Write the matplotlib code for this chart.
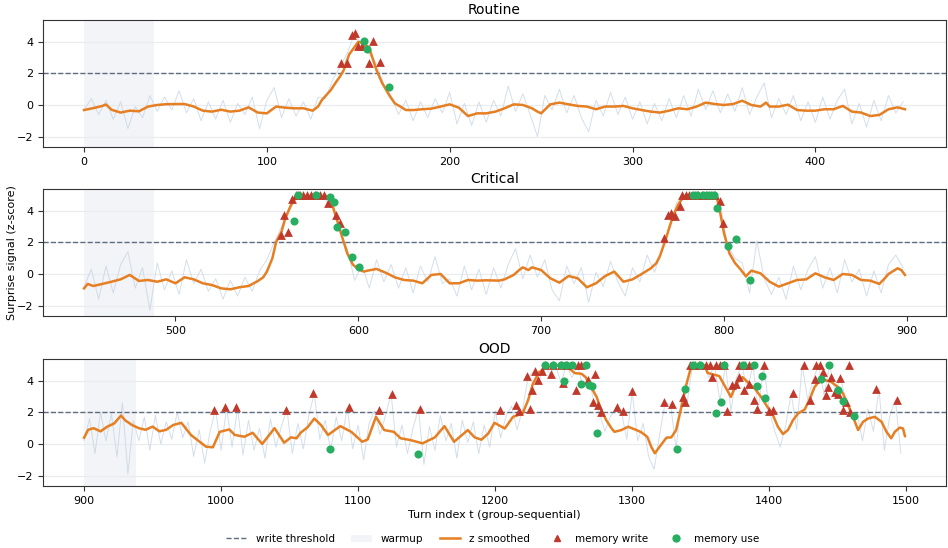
import numpy as np
import matplotlib
matplotlib.use("Agg")
import matplotlib.pyplot as plt
from matplotlib.lines import Line2D
from matplotlib.patches import Patch

# ---------------- data ----------------
groups = ["Routine", "Critical", "OOD"]
group_start = [0, 450, 900]
group_end = [449, 899, 1499]
warmup_len = 38
threshold = 2.0
raw_step = 4

routine_raw = [-0.3, 0.4, -0.6, 0.3, -0.9, 0.2, -1.5, -0.1, -0.8, 0.6, -0.4, 0.5, -0.3, 0.9, -0.5, 0.4,
               -1.0, 0.2, -0.9, 0.3, -1.1, 0.1, -0.6, 0.5, -1.5, 0.3, 1.1, -0.8, 0.4, -0.7, 0.2, -0.9,
               0.5, 0.4, 1.6, 2.4, 3.3, 4.5, 3.8, 3.2, 2.6, 1.3, 0.6, -0.6, 0.3, -1.0, 0.2, -0.8,
               0.4, -0.5, 0.8, -1.2, 0.1, -1.3, 0.2, -1.1, 0.3, -0.7, 1.2, -0.4, 0.7, -0.6, -2.0, 0.6,
               -0.3, 1.0, -0.5, 0.6, -0.8, -1.7, 0.3, -0.7, 0.8, -0.6, 0.5, -0.9, 0.2, -1.2, 0.1, -1.0,
               0.4, -0.8, 0.6, -0.7, 1.0, -0.3, 0.9, -0.5, 0.7, -0.4, 1.1, -0.6, 0.5, 1.4, -0.8, 0.4,
               -0.6, 0.6, -1.0, 0.2, -1.1, 0.5, -0.9, 0.3, 1.0, -1.2, 0.1, -1.4, 0.3, -1.0, 0.6, -0.5, 0.2]
critical_raw = [-0.8, 0.3, -1.6, 0.5, -1.2, 0.6, 1.4, -0.9, 0.4, -2.3, 0.7, -1.0, 0.2, -1.3, 0.9, -0.6,
                0.3, -1.1, -0.3, -1.6, -0.4, -1.4, -0.2, -1.1, 0.2, 0.9, 2.0, 3.0, 4.2, 5.0, 5.0, 5.0,
                5.0, 4.7, 4.1, 2.6, 1.6, -0.4, 0.6, -0.9, 0.9, -0.5, 0.6, -0.9, 0.4, -1.2, 0.5, -0.5,
                1.1, -0.6, -0.3, -1.4, 0.5, -1.0, 0.3, -1.3, 0.4, -0.9, 0.6, 1.6, -0.3, 1.2, -0.2, 0.9,
                -1.0, -1.7, 0.5, -0.6, 0.4, -1.8, 0.1, -0.8, 0.8, -0.5, -1.4, 0.4, -0.5, 1.2, 0.1, 1.5,
                2.8, 4.5, 5.0, 5.0, 5.0, 5.0, 5.0, 4.4, 1.8, 1.0, 0.7, -1.2, 2.1, -0.3, -1.3, -0.2,
                -1.6, 0.5, -1.0, 0.3, 1.1, -0.9, 0.4, -1.2, 0.9, -0.5, 0.3, -1.4, 0.2, -1.2, 0.6, 1.2, 0.4]
ood_raw = [0.2, 1.6, -0.6, 2.0, 0.2, 1.9, -0.8, 2.6, -1.9, 1.5, 0.2, 1.7, -0.4, 1.8, 0.0, 1.4,
           0.3, 2.0, 0.4, 1.4, -0.8, 0.9, -1.2, 0.8, 2.2, -0.4, 2.3, -0.2, 2.3, -0.7, 1.5, -0.4,
           1.0, -0.9, 1.6, -0.2, 1.1, 2.2, -0.6, 1.3, -0.3, 1.8, 3.2, 0.3, 1.5, -0.4, 1.7, 0.2,
           2.3, -0.3, 1.2, -1.0, 1.3, 2.1, 0.6, 1.8, 3.2, -0.2, 1.2, -0.6, 1.0, 2.2, -1.3, 1.1,
           -0.4, 1.8, 0.2, 1.3, -0.9, 1.5, 0.1, 1.4, -0.6, 1.2, -0.2, 2.1, 0.4, 1.8, 2.4, 0.9,
           2.2, 4.2, 4.6, 4.0, 5.0, 4.4, 5.0, 3.9, 5.0, 4.2, 5.0, 3.6, 4.3, 2.7, 2.0, 0.8,
           1.7, 2.3, 2.1, 0.3, 3.3, 0.2, 1.3, -0.8, -1.6, 0.6, 2.6, 2.5, -0.3, 3.0, 2.6, 5.0,
           5.0, 5.0, 4.2, 5.0, 2.7, 5.0, 2.1, 4.2, 5.0, 3.4, 5.0, 2.2, 5.0, 2.1, 0.8, -0.2,
           1.2, 3.2, 0.9, 5.0, 2.8, 4.1, 5.0, 3.1, 5.0, 3.3, 4.2, 2.7, 1.8, 2.0, 0.2, 2.2,
           0.8, 3.5, -0.4, 1.8, 2.8, -0.6]

routine_smooth = [(0, -0.32), (5, -0.2), (10, -0.06), (12, 0.03), (15, -0.3), (20, -0.48), (25, -0.36),
                  (30, -0.4), (35, -0.1), (40, 0.0), (45, 0.05), (50, 0.06), (55, 0.06), (60, -0.1),
                  (65, -0.36), (70, -0.42), (75, -0.3), (80, -0.42), (85, -0.36), (90, -0.15), (95, -0.48),
                  (100, -0.53), (105, -0.1), (110, -0.17), (115, -0.21), (120, -0.21), (125, -0.36),
                  (128, -0.1), (130, 0.3), (135, 0.95), (138, 1.48), (140, 1.8), (142, 2.2), (145, 3.2),
                  (150, 4.0), (153, 3.9), (156, 3.6), (160, 2.2), (163, 1.4), (167, 0.6), (170, 0.1),
                  (173, -0.1), (176, -0.32), (180, -0.32), (185, -0.27), (190, -0.23), (195, -0.1),
                  (200, 0.04), (205, -0.17), (210, -0.7), (215, -0.53), (220, -0.53), (225, -0.42),
                  (230, -0.21), (235, 0.04), (240, 0.0), (245, -0.21), (248, -0.42), (250, -0.53),
                  (255, 0.04), (260, 0.15), (265, 0.04), (270, -0.06), (275, -0.1), (280, -0.27),
                  (285, -0.1), (290, -0.1), (295, -0.06), (300, -0.21), (305, -0.32), (310, -0.42),
                  (315, -0.48), (320, -0.36), (325, -0.21), (330, -0.27), (335, -0.1), (340, 0.15),
                  (345, 0.06), (350, 0.0), (355, 0.06), (360, 0.27), (365, 0.0), (370, -0.1), (373, 0.15),
                  (375, -0.1), (380, -0.1), (385, 0.02), (390, -0.32), (395, -0.36), (400, -0.36),
                  (405, -0.27), (410, -0.27), (415, -0.06), (420, -0.42), (425, -0.48), (430, -0.7),
                  (435, -0.63), (440, -0.27), (445, -0.15), (449, -0.27)]
critical_smooth = [(450, -0.91), (452, -0.63), (455, -0.76), (460, -0.63), (465, -0.49), (470, -0.34),
                   (475, -0.06), (480, -0.44), (485, -0.38), (490, -0.49), (495, -0.34), (500, -0.59),
                   (505, -0.21), (510, -0.34), (515, -0.59), (520, -0.7), (525, -0.91), (530, -0.97),
                   (535, -0.84), (540, -0.76), (545, -0.45), (548, -0.21), (550, 0.15), (553, 0.99),
                   (555, 2.0), (558, 2.68), (560, 3.5), (563, 4.3), (565, 4.7), (567, 4.9), (575, 4.9),
                   (584, 4.9), (586, 4.3), (589, 3.2), (591, 2.4), (594, 1.3), (597, 0.6), (600, 0.3),
                   (603, 0.15), (605, 0.21), (610, 0.32), (615, 0.08), (620, -0.21), (625, -0.38),
                   (630, -0.42), (635, -0.59), (640, -0.06), (645, 0.0), (650, -0.59), (655, -0.59),
                   (660, -0.38), (665, -0.42), (670, -0.4), (677, -0.42), (680, -0.34), (685, -0.06),
                   (688, 0.25), (690, 0.42), (693, 0.25), (695, 0.42), (700, 0.25), (705, -0.27),
                   (710, -0.55), (715, -0.13), (720, -0.27), (725, -0.84), (730, -0.59), (735, -0.13),
                   (740, 0.15), (745, -0.49), (750, -0.34), (755, 0.0), (760, 0.36), (763, 0.68),
                   (765, 1.14), (768, 2.15), (770, 2.89), (772, 3.63), (775, 4.4), (778, 4.9), (790, 4.9),
                   (796, 4.9), (798, 3.84), (800, 2.6), (803, 1.3), (806, 0.7), (809, 0.3), (812, -0.15),
                   (815, 0.21), (820, 0.04), (825, -0.49), (830, -0.8), (835, -0.59), (840, -0.38),
                   (845, -0.34), (850, 0.04), (855, -0.21), (860, -0.38), (865, 0.0), (870, -0.06),
                   (875, -0.38), (880, -0.42), (885, -0.63), (888, -0.27), (890, 0.0), (895, 0.36),
                   (897, 0.25), (899, -0.06)]
ood_smooth = [(900, 0.4), (903, 0.9), (907, 1.0), (912, 0.8), (917, 1.1), (922, 1.3), (927, 1.8), (930, 1.5),
              (935, 1.2), (940, 1.0), (945, 0.9), (950, 1.1), (955, 0.8), (960, 0.9), (965, 1.2),
              (971, 1.34), (978, 0.57), (989, -0.17), (994, -0.21), (999, 0.77), (1006, 0.92), (1010, 0.57),
              (1017, 0.46), (1023, 0.71), (1030, 0.0), (1039, 1.0), (1046, 0.08), (1051, 0.42), (1055, 0.36),
              (1058, 0.71), (1063, 1.05), (1068, 1.61), (1073, 1.19), (1078, 0.57), (1087, 1.13), (1095, 0.77),
              (1103, 0.14), (1107, 0.29), (1113, 1.72), (1119, 0.88), (1126, 0.77), (1131, 0.36), (1138, 0.25),
              (1147, 0.04), (1156, 0.42), (1163, 1.13), (1170, 0.14), (1180, 0.88), (1185, 0.42), (1190, 0.27),
              (1195, 0.67), (1199.5, 1.34), (1207, 0.98), (1213, 1.72), (1216.5, 1.82), (1220, 1.93),
              (1224, 2.77), (1227.5, 3.81), (1232, 4.55), (1238, 4.86), (1246, 4.97), (1253, 4.86),
              (1258, 4.49), (1263, 4.44), (1266, 4.23), (1270, 3.6), (1274, 2.98), (1277, 2.24), (1281, 1.51),
              (1285, 0.98), (1287, 0.77), (1292, 0.88), (1297, 1.09), (1302, 0.92), (1306.5, 0.75),
              (1311, 0.45), (1314, -0.2), (1316.5, -0.59), (1320, -0.17), (1325, 0.4), (1328.5, 0.42),
              (1332, 0.88), (1335.5, 2.2), (1339, 3.6), (1343, 4.9), (1353, 4.97), (1355, 4.5), (1359, 4.4),
              (1363.5, 4.3), (1368, 3.6), (1372, 2.98), (1376, 3.81), (1380.5, 4.23), (1385.5, 3.81),
              (1389.5, 3.5), (1394, 2.98), (1399, 2.3), (1402.7, 1.82), (1406.3, 1.09), (1410, 0.63),
              (1413.6, 0.88), (1417.3, 1.51), (1421, 1.93), (1425.8, 2.18), (1429.4, 2.81), (1433, 3.6),
              (1438, 4.13), (1441.6, 4.02), (1445.3, 3.92), (1450.2, 3.6), (1453.8, 3.19), (1457.5, 2.45),
              (1461.1, 1.72), (1464.8, 0.88), (1468.4, 1.4), (1472, 1.61), (1477, 1.72), (1482, 1.4),
              (1485.5, 0.77), (1489, 0.36), (1491.6, 0.77), (1495.2, 1.04), (1497.6, 0.98), (1499, 0.5)]

routine_writes = [(140.3, 2.68), (144, 2.68), (146.3, 4.43), (148, 4.53), (150, 3.72), (152, 3.72),
                  (155.9, 2.64), (158, 4.07), (162, 2.74)]
routine_uses = [(153.1, 4.05), (155, 3.54), (166.8, 1.16)]
critical_writes = [(557.7, 2.47), (559.5, 3.73), (561.7, 2.68), (563.5, 4.72), (566, 5), (568, 5), (570, 5),
                   (572, 5), (574, 5), (576.5, 5), (579, 5), (581, 5), (583.5, 4.51), (587.6, 3.73),
                   (589.8, 3.2), (767.3, 2.26), (769.5, 3.73), (771.2, 3.84), (773, 3.67), (775.8, 4.3),
                   (777, 5), (779, 5), (781, 5), (784, 5), (786, 5), (788, 5), (790, 5), (792, 5), (795, 5),
                   (797.7, 4.64), (799.5, 3.25)]
critical_uses = [(564.6, 3.37), (566.8, 5), (576.8, 5), (584.6, 4.9), (586.8, 4.57), (588.6, 2.95),
                 (592.6, 2.64), (596.8, 1.06), (600.4, 0.42), (783, 5), (785, 5), (788.5, 5), (791, 5),
                 (793, 5), (794.8, 5), (796.3, 4.2), (802.3, 1.79), (806.5, 2.2), (814.5, -0.38)]
ood_writes = [(994.7, 2.18), (1002.5, 2.31), (1010.9, 2.31), (1047, 2.18), (1066.9, 3.23), (1093, 2.31),
              (1115.1, 2.14), (1124.8, 3.19), (1144.8, 2.24), (1203.2, 2.14), (1215.4, 2.45), (1217.3, 2.1),
              (1225.1, 2.24), (1223.2, 4.28), (1227, 3.44), (1228.7, 4.61), (1231.2, 4.02), (1234.1, 4.61),
              (1236, 4.97), (1240.9, 4.4), (1242.1, 4.97), (1248.2, 4.97), (1249.4, 3.88), (1252.5, 4.97),
              (1259.1, 3.44), (1260.3, 4.97), (1262.7, 4.97), (1267.5, 4.02), (1273.1, 4.4), (1271.2, 2.66),
              (1274.9, 2.45), (1277.3, 2.03), (1289, 2.31), (1293.2, 2.1), (1299.7, 3.36), (1323.1, 2.66),
              (1329.2, 2.52), (1337, 2.98), (1338.7, 2.66), (1342, 4.97), (1346, 4.97), (1349, 4.97),
              (1354, 4.97), (1357, 4.97), (1361, 4.97), (1364, 4.97), (1367, 4.97), (1378, 4.97),
              (1382, 4.97), (1385, 4.97), (1396, 4.97), (1425, 4.97), (1434, 4.97), (1437, 4.97),
              (1458, 4.97), (1358.3, 4.23), (1368.8, 2.1), (1372.9, 3.71), (1375.4, 3.81), (1377.8, 4.23),
              (1381.5, 3.4), (1385.1, 3.81), (1388.8, 2.77), (1390.7, 2.24), (1399.7, 2.1), (1402.9, 2.14),
              (1417.3, 3.23), (1429.4, 2.77), (1433, 4.13), (1439.1, 4.55), (1445.2, 4.23), (1442.8, 3.6),
              (1451.8, 4.19), (1447.7, 3.29), (1441.6, 3.08), (1450.1, 3.19), (1456.2, 2.66), (1453.8, 2.18),
              (1458.7, 2.03), (1477.9, 3.5), (1493.5, 2.77)]
ood_uses = [(1079.8, -0.34), (1144, -0.63), (1236, 5), (1242.1, 5), (1248.2, 5), (1251.8, 5), (1256, 5),
            (1266.3, 5), (1250.1, 3.98), (1262.3, 3.81), (1268.1, 3.71), (1270.6, 3.65), (1274.2, 0.71),
            (1332.8, -0.32), (1338.2, 3.5), (1344.2, 5), (1349.1, 5), (1360.9, 1.97), (1364.8, 2.66),
            (1367, 5), (1381.1, 5), (1388.9, 5), (1395, 4.28), (1390.9, 3.65), (1397, 2.93), (1437.7, 4.13),
            (1443.8, 5), (1449.9, 3.4), (1453.6, 2.73), (1461.6, 1.78)]

raws = [routine_raw, critical_raw, ood_raw]
smooths = [routine_smooth, critical_smooth, ood_smooth]
writes = [routine_writes, critical_writes, ood_writes]
uses = [routine_uses, critical_uses, ood_uses]

# ---------------- style ----------------
C_ORANGE = "#e67e22"
C_RED = "#c0392b"
C_GREEN = "#27ae60"
C_THR = "#5d6d7e"
C_RAW = "#c5d3e3"
C_WARM = "#d3dae4"

fig = plt.figure(figsize=(9.48, 5.48), dpi=100)
W, H = 948.0, 548.0
panel_px = [(20, 147), (189, 316), (359, 486)]
left_px, right_px = 43, 946

axes = []
for i, (top, bot) in enumerate(panel_px):
    ax = fig.add_axes([left_px / W, 1 - bot / H, (right_px - left_px) / W, (bot - top) / H])
    axes.append(ax)
    s, e = group_start[i], group_end[i]
    ax.axvspan(s, s + warmup_len, color=C_WARM, alpha=0.28, lw=0, zorder=0)
    raw = np.array(raws[i])
    rt = s + raw_step * np.arange(len(raw))
    ax.plot(rt, raw, color=C_RAW, lw=0.7, alpha=0.75, zorder=1)
    sm = np.array(smooths[i])
    ax.plot(sm[:, 0], sm[:, 1], color=C_ORANGE, lw=1.8, zorder=3)
    ax.axhline(threshold, color=C_THR, ls="--", lw=1.0, zorder=2)
    wr = np.array(writes[i])
    ax.scatter(wr[:, 0], wr[:, 1], marker="^", s=40, color=C_RED, zorder=4, linewidths=0)
    us = np.array(uses[i])
    ax.scatter(us[:, 0], us[:, 1], marker="o", s=34, color=C_GREEN, zorder=5, linewidths=0)
    span = e - s
    ax.set_xlim(s - 0.05 * span, e + 0.05 * span)
    ax.set_ylim(-2.66, 5.38)
    ax.set_yticks([-2, 0, 2, 4])
    ax.yaxis.grid(True, color="#e9ecef", lw=0.8)
    ax.set_axisbelow(True)
    ax.tick_params(labelsize=8, length=3.5, color="#333333")
    for sp in ax.spines.values():
        sp.set_color("#333333")
        sp.set_linewidth(0.8)
    ax.set_title(groups[i], fontsize=10, pad=4)

axes[1].set_ylabel("Surprise signal (z-score)", fontsize=8)
axes[1].yaxis.set_label_coords(-0.029, 0.5)
axes[2].set_xlabel("Turn index t (group-sequential)", fontsize=8, labelpad=3)

handles = [
    Line2D([], [], color=C_THR, ls="--", lw=1.0),
    Patch(facecolor=C_WARM, alpha=0.28, edgecolor="none"),
    Line2D([], [], color=C_ORANGE, lw=1.8),
    Line2D([], [], color=C_RED, marker="^", ls="none", markersize=5),
    Line2D([], [], color=C_GREEN, marker="o", ls="none", markersize=5),
]
labels = ["write threshold", "warmup", "z smoothed", "memory write", "memory use"]
fig.legend(handles, labels, loc="lower center", bbox_to_anchor=(0.52, -0.01), ncol=5,
           frameon=False, fontsize=7.5, columnspacing=1.6, handlelength=2.0)

fig.savefig("out.png", dpi=100)
